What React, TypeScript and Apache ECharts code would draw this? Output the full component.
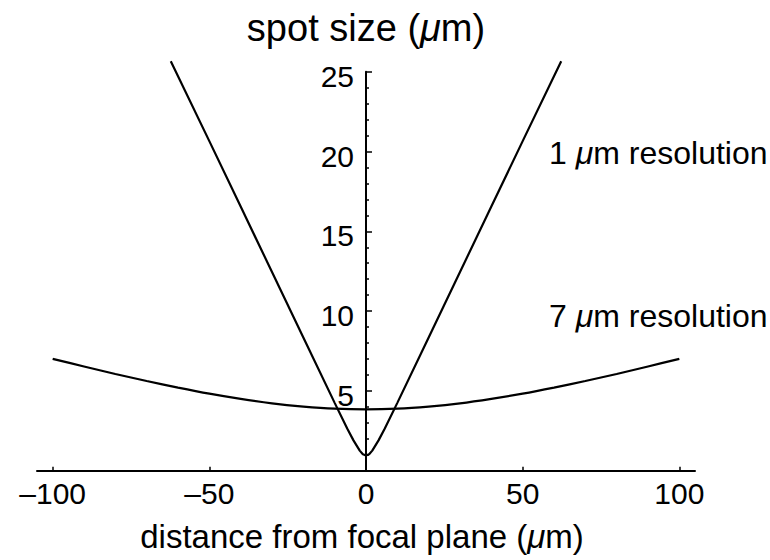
import React, { useEffect, useRef } from "react";
import * as echarts from "echarts";

// 1 µm resolution beam (spot size vs distance from focal plane)
const x1 = [-62.3, -50, -40, -30, -20, -10, -6, -4, -2, -1, 0, 1, 2, 4, 6, 10, 20, 30, 40, 50, 62.3];
const y1 = [25.66, 20.65, 16.55, 12.45, 8.35, 4.25, 2.65, 1.9, 1.26, 1.03, 0.95, 1.03, 1.26, 1.9, 2.65, 4.25, 8.35, 12.45, 16.55, 20.65, 25.66];

// 7 µm resolution beam
const x7 = [-100, -90, -80, -70, -60, -50, -40, -30, -20, -10, 0, 10, 20, 30, 40, 50, 60, 70, 80, 90, 100];
const y7 = [7.01, 6.53, 6.06, 5.62, 5.21, 4.83, 4.5, 4.22, 4.02, 3.885, 3.84, 3.885, 4.02, 4.22, 4.5, 4.83, 5.21, 5.62, 6.06, 6.53, 7.01];

const xTicks = [-100, -50, 0, 50, 100];
const yTicks = [5, 10, 15, 20, 25];

const FONT = "'Liberation Sans', Arial, Helvetica, sans-serif";

export default function App() {
  const ref = useRef<HTMLDivElement>(null);
  useEffect(() => {
    if (!ref.current) return;
    document.body.style.margin = "0";
    const chart = echarts.init(ref.current, undefined, { renderer: "svg" });
    const muRich = (size: number) => ({
      n: { fontFamily: FONT, fontSize: size, fill: "#000", color: "#000" },
      i: { fontFamily: FONT, fontSize: size, fontStyle: "italic", fill: "#000", color: "#000" },
    });
    chart.setOption({
      animation: false,
      backgroundColor: "#fff",
      grid: { left: 37, right: 75, top: 71.7, bottom: 89.3, outerBoundsMode: "none" },
      xAxis: {
        type: "value",
        min: -105,
        max: 105,
        axisLine: { onZero: true, lineStyle: { color: "#000", width: 2 } },
        axisTick: { inside: true, length: 4, customValues: xTicks, lineStyle: { color: "#000", width: 1.5 } },
        axisLabel: {
          customValues: xTicks,
          fontFamily: FONT,
          fontSize: 30,
          color: "#000",
          margin: 8,
          formatter: (v: number) => (v < 0 ? "\u2013" + Math.abs(v) : String(v)),
        },
        splitLine: { show: false },
      },
      yAxis: {
        type: "value",
        min: 0,
        max: 25,
        interval: 5,
        offset: -329,
        axisLine: { show: true, onZero: false, lineStyle: { color: "#000", width: 2 } },
        axisTick: { show: true, inside: true, length: 6, lineStyle: { color: "#000", width: 1.5 } },
        minorTick: { show: true, splitNumber: 5, length: 3, lineStyle: { color: "#000", width: 1.5 } },
        axisLabel: {
          customValues: yTicks,
          fontFamily: FONT,
          fontSize: 30,
          color: "#000",
          margin: 12,
          verticalAlign: "top",
          lineHeight: 9,
        },
        splitLine: { show: false },
      },
      graphic: [
        {
          type: "text",
          x: 366,
          y: 28,
          style: {
            text: "{n|spot size (}{i|μ}{n|m)}",
            rich: muRich(38),
            align: "center",
            verticalAlign: "middle",
          },
        },
        {
          type: "text",
          x: 362,
          y: 536,
          style: {
            text: "{n|distance from focal plane (}{i|μ}{n|m)}",
            rich: muRich(33),
            align: "center",
            verticalAlign: "middle",
          },
        },
        {
          type: "text",
          x: 549,
          y: 153,
          style: {
            text: "{n|1 }{i|μ}{n|m resolution}",
            rich: muRich(32),
            align: "left",
            verticalAlign: "middle",
          },
        },
        {
          type: "text",
          x: 549,
          y: 316,
          style: {
            text: "{n|7 }{i|μ}{n|m resolution}",
            rich: muRich(32),
            align: "left",
            verticalAlign: "middle",
          },
        },
      ],
      series: [
        {
          name: "1 μm resolution",
          type: "line",
          data: x1.map((x, i) => [x, y1[i]]),
          showSymbol: false,
          clip: false,
          lineStyle: { color: "#000", width: 2.2 },
        },
        {
          name: "7 μm resolution",
          type: "line",
          data: x7.map((x, i) => [x, y7[i]]),
          showSymbol: false,
          smooth: 0.3,
          clip: false,
          lineStyle: { color: "#000", width: 2.2 },
        },
      ],
    });
    return () => chart.dispose();
  }, []);
  return <div ref={ref} style={{ width: 770, height: 560 }} />;
}
